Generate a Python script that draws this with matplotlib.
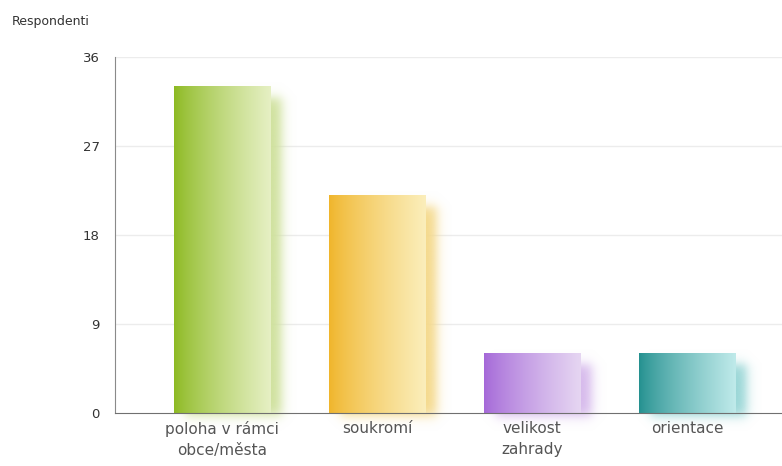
import numpy as np
import matplotlib.pyplot as plt
from matplotlib.colors import to_rgb

categories = ["poloha v rámci\nobce/města", "soukromí", "velikost\nzahrady", "orientace"]
values = [33, 22, 6, 6]
yticks = [0, 9, 18, 27, 36]

dark_colors = ["#8cb920", "#f0b52a", "#a467d8", "#23908f"]
light_colors = ["#e6f0c4", "#fbeebb", "#e6d6f2", "#bfeaea"]
shadow_colors = ["#cfe19c", "#f5d98a", "#d6b9ec", "#98d6d6"]

fig = plt.figure(figsize=(7.82, 4.66), dpi=100)
ax = fig.add_axes([115 / 782, 1 - 413 / 466, 667 / 782, 356 / 466])

xmin, xmax = -0.69, 3.61
ymin, ymax = 0, 36

px_x = 155.0   # pixels per category
px_y = 356.0 / 36  # pixels per unit
bar_w = 0.62


def smooth(d, s=3.2):
    return 1 / (1 + np.exp(-d / s))


for i, v in enumerate(values):
    x0, x1 = i - bar_w / 2, i + bar_w / 2

    # soft shadow, offset right/down
    off_x, off_y, pad = 11, 11, 15
    sx0 = x0 * px_x + off_x
    sx1 = x1 * px_x + off_x
    sy_top = v * px_y - off_y
    sy_bot = -3
    gx = np.linspace(sx0 - pad, sx1 + pad, 150)
    gy = np.linspace(sy_bot - pad, sy_top + pad, 250)
    X, Y = np.meshgrid(gx, gy[::-1])
    a = smooth(X - sx0) * smooth(sx1 - X) * smooth(Y - sy_bot) * smooth(sy_top - Y)
    rgba = np.zeros(a.shape + (4,))
    rgba[..., :3] = to_rgb(shadow_colors[i])
    rgba[..., 3] = a
    ax.imshow(rgba, extent=[gx[0] / px_x, gx[-1] / px_x, gy[0] / px_y, gy[-1] / px_y],
              aspect="auto", zorder=1, clip_on=False, interpolation="bilinear")

    # horizontal gradient bar
    t = np.linspace(0, 1, 200)[None, :, None]
    c0 = np.array(to_rgb(dark_colors[i]))
    c1 = np.array(to_rgb(light_colors[i]))
    grad = c0 + (c1 - c0) * t ** 0.8
    ax.imshow(grad, extent=[x0, x1, 0, v], aspect="auto", zorder=2,
              interpolation="bilinear")

ax.set_xlim(xmin, xmax)
ax.set_ylim(ymin, ymax)

for y in yticks[1:]:
    ax.axhline(y, color="#ececec", lw=1, zorder=0)

for s in ["top", "right"]:
    ax.spines[s].set_visible(False)
ax.spines["left"].set_color("#8a8a8a")
ax.spines["bottom"].set_color("#707070")
ax.spines["bottom"].set_zorder(3)

ax.set_yticks(yticks)
ax.set_yticklabels([str(y) for y in yticks], fontsize=9.5, color="#333333")
ax.set_xticks(range(len(categories)))
ax.set_xticklabels(categories, fontsize=11, color="#555555", linespacing=1.5)
ax.tick_params(length=0, pad=11)
ax.tick_params(axis="x", pad=6)

fig.text(12 / 782, 1 - 21 / 466, "Respondenti", fontsize=9, color="#333333",
         va="center", ha="left")

fig.savefig("out.png", dpi=100)
